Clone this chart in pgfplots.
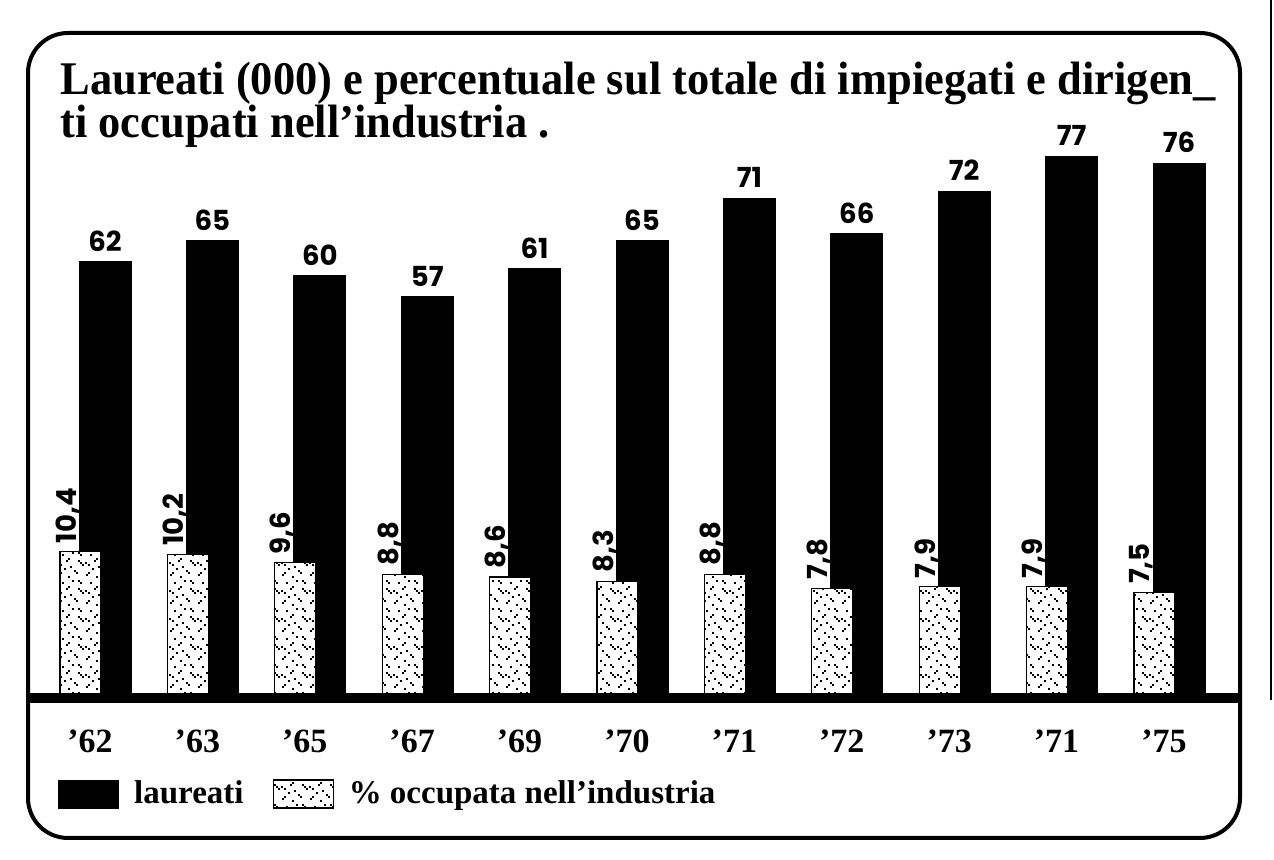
\documentclass[border=0pt]{standalone}
\usepackage{fontspec}
\setmainfont{Liberation Serif}
\newfontfamily\numfont{Poppins}
\usepackage{pgfplots}
\usepackage{pgfplotstable}
\pgfplotsset{compat=1.18}
\usetikzlibrary{patterns}

\pgfdeclarepatternformonly{specks}{\pgfqpoint{-1pt}{-1pt}}{\pgfqpoint{15pt}{15pt}}{\pgfqpoint{14pt}{14pt}}{
  \pgfpathrectangle{\pgfqpoint{1pt}{2pt}}{\pgfqpoint{0.9pt}{0.9pt}}
  \pgfpathrectangle{\pgfqpoint{2pt}{3pt}}{\pgfqpoint{0.9pt}{0.9pt}}
  \pgfpathrectangle{\pgfqpoint{5pt}{9pt}}{\pgfqpoint{0.9pt}{0.9pt}}
  \pgfpathrectangle{\pgfqpoint{6pt}{10pt}}{\pgfqpoint{0.9pt}{0.9pt}}
  \pgfpathrectangle{\pgfqpoint{9pt}{4pt}}{\pgfqpoint{0.9pt}{0.9pt}}
  \pgfpathrectangle{\pgfqpoint{10pt}{3pt}}{\pgfqpoint{0.9pt}{0.9pt}}
  \pgfpathrectangle{\pgfqpoint{12pt}{12pt}}{\pgfqpoint{0.9pt}{0.9pt}}
  \pgfpathrectangle{\pgfqpoint{11pt}{13pt}}{\pgfqpoint{0.9pt}{0.9pt}}
  \pgfpathrectangle{\pgfqpoint{3pt}{12pt}}{\pgfqpoint{0.9pt}{0.9pt}}
  \pgfpathrectangle{\pgfqpoint{7pt}{6pt}}{\pgfqpoint{0.9pt}{0.9pt}}
  \pgfpathrectangle{\pgfqpoint{13pt}{7pt}}{\pgfqpoint{0.9pt}{0.9pt}}
  \pgfpathrectangle{\pgfqpoint{4pt}{5pt}}{\pgfqpoint{0.9pt}{0.9pt}}
  \pgfpathrectangle{\pgfqpoint{8pt}{13pt}}{\pgfqpoint{0.9pt}{0.9pt}}
  \pgfpathrectangle{\pgfqpoint{0.5pt}{8pt}}{\pgfqpoint{0.9pt}{0.9pt}}
  \pgfpathrectangle{\pgfqpoint{2pt}{7pt}}{\pgfqpoint{0.9pt}{0.9pt}}
  \pgfpathrectangle{\pgfqpoint{6pt}{1pt}}{\pgfqpoint{0.9pt}{0.9pt}}
  \pgfpathrectangle{\pgfqpoint{11pt}{9pt}}{\pgfqpoint{0.9pt}{0.9pt}}
  \pgfpathrectangle{\pgfqpoint{12pt}{8pt}}{\pgfqpoint{0.9pt}{0.9pt}}
  \pgfusepath{fill}
}

\pgfplotsset{boxlegend/.style={legend image code/.code={\draw[##1] (0pt,-7pt) rectangle (30pt,7pt);}}}

\pgfplotstableread{
x lau
0 62
1 65
2 60
3 57
4 61
5 65
6 71
7 66
8 72
9 77
10 76
}\laureati

\pgfplotstableread{
x pct
0 10.4
1 10.2
2 9.6
3 8.8
4 8.6
5 8.3
6 8.8
7 7.8
8 7.9
9 7.9
10 7.5
}\percentuale

\newcommand\titlefont{\fontsize{23.4}{26}\selectfont\bfseries}
\newcommand\valfont{\numfont\bfseries\fontsize{13.8}{14}\selectfont}

\begin{document}
\begin{tikzpicture}[x=0.5pt,y=0.5pt]
\path[use as bounding box] (0,0) rectangle (1274,860);
\fill[white] (0,0) rectangle (1274,860);

% frame
\draw[line width=2pt, rounded corners=20pt] (28,827) rectangle (1240,22);
\draw[line width=0.8pt] (1271,860) -- (1271,160);

% title
\node[anchor=base west, inner sep=0pt] at (60,765) {\titlefont\scalebox{0.95}[1]{Laureati (000) e percentuale sul totale di impiegati e dirigen\_}};
\node[anchor=base west, inner sep=0pt] at (60,722) {\titlefont\scalebox{0.95}[1]{ti occupati nell’industria .}};

\begin{axis}[
  at={(14pt,81pt)}, anchor=south west,
  scale only axis, width=606pt, height=281.5pt,
  xmin=-0.6029, xmax=10.682, ymin=0, ymax=80,
  axis x line*=bottom, axis y line=none,
  x axis line style={line width=5pt,-},
  xtick={0,...,10},
  xticklabels={’62,’63,’65,’67,’69,’70,’71,’72,’73,’71,’75},
  xtick style={draw=none},
  xticklabel style={font=\fontsize{17}{18}\selectfont\bfseries, anchor=north, inner sep=0pt, yshift=-11.5pt, xshift=-1.4pt},
  ybar, bar width=26pt, bar shift=6.125pt,
  nodes near coords,
  nodes near coords style={font=\valfont, inner sep=0pt, anchor=south, yshift=5pt},
  /pgf/number format/assume math mode=true,
  clip=false,
]
\addplot[fill=black, draw=black] table[x=x,y=lau]{\laureati};
\end{axis}

\begin{axis}[
  at={(14pt,81pt)}, anchor=south west,
  scale only axis, width=606pt, height=281.5pt,
  xmin=-0.6029, xmax=10.682, ymin=0, ymax=40,
  axis x line*=bottom, axis y line=none,
  x axis line style={line width=5pt,-},
  xtick=\empty, axis on top,
  ybar, bar width=20.5pt, bar shift=-6.125pt,
  nodes near coords,
  nodes near coords style={font=\valfont, inner sep=0pt, xshift=-6.5pt, yshift=4pt, rotate=90, anchor=west},
  /pgf/number format/.cd, use comma, fixed, fixed zerofill, precision=1, assume math mode=true,
  /pgfplots/.cd,
  clip=false,
  boxlegend,
  legend columns=2,
  legend style={at={(0.02475,-0.1705)}, anchor=west, draw=none, fill=none, inner sep=0pt,
    font=\fontsize{16.5}{18}\selectfont\bfseries,
    /tikz/every odd column/.append style={column sep=5.5pt},
    /tikz/every even column/.append style={column sep=12.5pt},
    cells={anchor=west}},
]
\addlegendimage{fill=black, draw=black, boxlegend}
\addlegendentry{laureati}
\addplot[fill=white, draw=black, line width=0.6pt, postaction={pattern=specks}, boxlegend]
  table[x=x,y=pct]{\percentuale};
\addlegendentry{\% occupata nell’industria}
\end{axis}
\end{tikzpicture}
\end{document}
